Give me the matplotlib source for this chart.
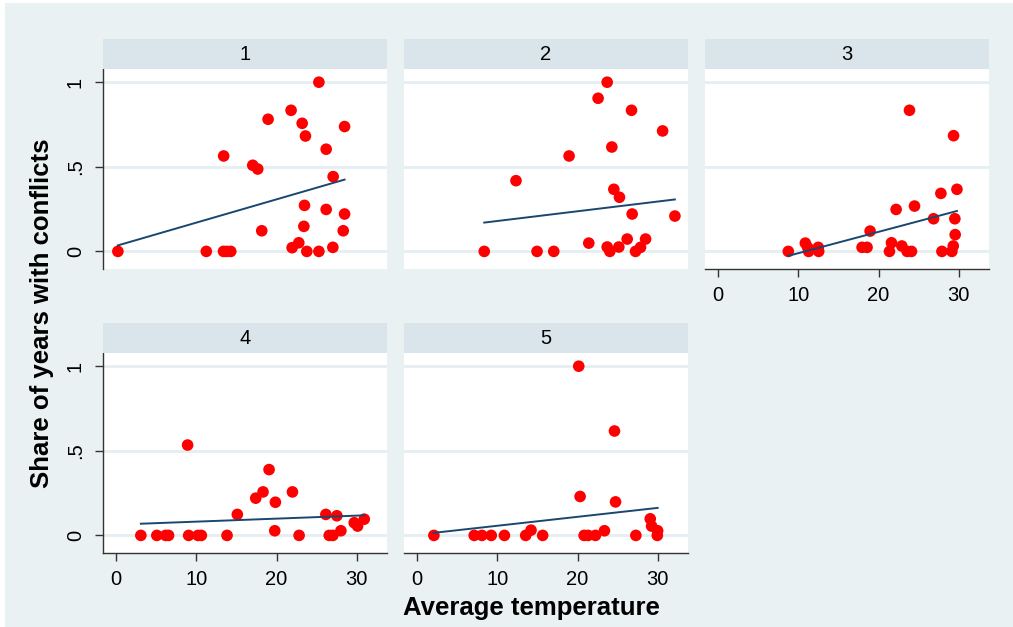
import matplotlib
matplotlib.use("Agg")
import matplotlib.pyplot as plt
from matplotlib.patches import Rectangle
import numpy as np

# === DADOS ===
panel_labels = ["1", "2", "3", "4", "5"]

temp_1 = [0.25, 11.26, 13.4, 13.8, 14.3, 13.42, 17.04, 17.66, 18.16, 18.95, 21.81, 21.94,
          22.77, 23.19, 23.6, 23.48, 23.4, 23.77, 25.27, 25.27, 26.18, 26.18, 27.05, 27.01,
          28.47, 28.47, 28.3]
share_1 = [0, 0, 0, 0, 0, 0.564, 0.509, 0.487, 0.122, 0.781, 0.834, 0.022,
           0.051, 0.757, 0.682, 0.272, 0.148, 0, 1.0, 0, 0.604, 0.248, 0.442, 0.024,
           0.738, 0.221, 0.122]

temp_2 = [8.39, 12.34, 14.96, 17.04, 18.95, 21.4, 22.56, 23.69, 23.69, 24.02, 24.27, 24.52,
          25.22, 25.14, 26.18, 26.72, 26.8, 27.22, 27.84, 28.47, 30.59, 32.12]
share_2 = [0, 0.418, 0, 0, 0.564, 0.049, 0.905, 1.0, 0.026, 0, 0.617, 0.367,
           0.32, 0.026, 0.073, 0.834, 0.221, 0, 0.024, 0.073, 0.712, 0.209]

temp_3 = [8.77, 10.89, 11.18, 11.3, 12.5, 12.55, 17.95, 18.57, 18.95, 21.36, 21.61, 22.19,
          22.9, 23.56, 23.85, 24.1, 24.48, 26.85, 27.76, 27.89, 29.13, 29.3, 29.34, 29.5,
          29.54, 29.76]
share_3 = [0, 0.049, 0.024, 0, 0.024, 0, 0.024, 0.024, 0.12, 0, 0.051, 0.248,
           0.032, 0, 0.834, 0, 0.268, 0.193, 0.343, 0, 0, 0.032, 0.684, 0.193,
           0.099, 0.367]

temp_4 = [3.11, 5.1, 6.19, 6.56, 8.93, 9.06, 10.22, 10.64, 13.84, 15.12, 17.41, 18.32,
          19.07, 19.78, 19.86, 21.98, 22.81, 26.14, 26.56, 27.01, 27.51, 28.01, 29.67, 30.09,
          30.92]
share_4 = [0, 0, 0, 0, 0.534, 0, 0, 0, 0, 0.124, 0.22, 0.257,
           0.389, 0.0275, 0.196, 0.257, 0, 0.124, 0, 0, 0.116, 0.0275, 0.075, 0.055,
           0.096]

temp_5 = [2.12, 7.14, 8.1, 9.26, 10.9, 13.55, 14.21, 15.66, 20.15, 20.32, 20.82, 21.32,
          22.23, 23.35, 24.6, 24.73, 27.26, 29.05, 29.22, 29.97, 29.93]
share_5 = [0, 0, 0, 0, 0, 0, 0.031, 0, 1.0, 0.23, 0, 0,
           0, 0.0275, 0.617, 0.198, 0, 0.098, 0.055, 0.0275, 0]

temps = [temp_1, temp_2, temp_3, temp_4, temp_5]
shares = [share_1, share_2, share_3, share_4, share_5]

# reta ajustada (lfit)
fit_intercept = [0.032, 0.122, -0.137, 0.0635, 0.004]
fit_slope = [0.01378, 0.00576, 0.01263, 0.00178, 0.00529]

x_ticks = [0, 10, 20, 30]
y_ticks = [0, 0.5, 1]
y_ticklabels = ["0", ".5", "1"]

# === ESTILO ===
bg = "#EAF1F3"
strip = "#D9E5EB"
grid = "#E6EEF1"
navy = "#1A476F"
plt.rcParams["font.family"] = ["Liberation Sans", "DejaVu Sans"]

W, H = 1013, 627
fig = plt.figure(figsize=(W / 100, H / 100), dpi=100, facecolor="white")
fig.patches.append(Rectangle((5 / W, 0), 1, (H - 3) / H, transform=fig.transFigure,
                             facecolor=bg, edgecolor="none", zorder=-10))

cols_px = [103, 404, 705]
top_px = [69, 353]
aw, ah = 284, 200

for i in range(5):
    r, c = divmod(i, 3)
    left = cols_px[c] / W
    bottom = (H - top_px[r] - ah) / H
    ax = fig.add_axes([left, bottom, aw / W, ah / H])
    ax.set_facecolor("white")
    ax.set_xlim(-1.6, 33.75)
    ax.set_ylim(-0.104, 1.078)

    for yv in y_ticks:
        ax.axhline(yv, color=grid, lw=2.0, zorder=1)

    ax.scatter(temps[i], shares[i], s=70, color="#FF0000", edgecolors="none", zorder=3)
    xs = np.array([min(temps[i]), max(temps[i])])
    ax.plot(xs, fit_intercept[i] + fit_slope[i] * xs, color=navy, lw=1.4, zorder=4)

    for s in ax.spines.values():
        s.set_visible(False)

    show_y = c == 0
    show_x = (r == 1) or (c == 2)
    ax.set_yticks(y_ticks)
    ax.set_xticks(x_ticks)
    if show_y:
        ax.spines["left"].set_visible(True)
        ax.spines["left"].set_color("#333333")
        ax.spines["left"].set_linewidth(1.0)
        ax.set_yticklabels(y_ticklabels, rotation=90, va="center", fontsize=14.5)
        ax.tick_params(axis="y", length=6, width=1, color="#333333", pad=7)
    else:
        ax.tick_params(axis="y", left=False, labelleft=False)
    if show_x:
        ax.spines["bottom"].set_visible(True)
        ax.spines["bottom"].set_color("#333333")
        ax.spines["bottom"].set_linewidth(1.0)
        ax.set_xticklabels([str(t) for t in x_ticks], fontsize=14.5)
        ax.tick_params(axis="x", length=6, width=1, color="#333333", pad=6)
    else:
        ax.tick_params(axis="x", bottom=False, labelbottom=False)

    # faixa do título do painel
    ax.add_patch(Rectangle((0, 1), 1, 30 / ah, transform=ax.transAxes, facecolor=strip,
                           edgecolor="none", clip_on=False, zorder=5))
    ax.text(0.5, 1 + 15 / ah, panel_labels[i], transform=ax.transAxes, ha="center",
            va="center", fontsize=14.5, zorder=6)

fig.text(531 / W, 1 - 608 / H, "Average temperature", ha="center", va="center",
         fontsize=18.5, fontweight="bold")
fig.text(42 / W, 1 - 313 / H, "Share of years with conflicts", ha="center", va="center",
         rotation=90, fontsize=18.5, fontweight="bold")

fig.savefig("out.png", dpi=100, facecolor=fig.get_facecolor())
